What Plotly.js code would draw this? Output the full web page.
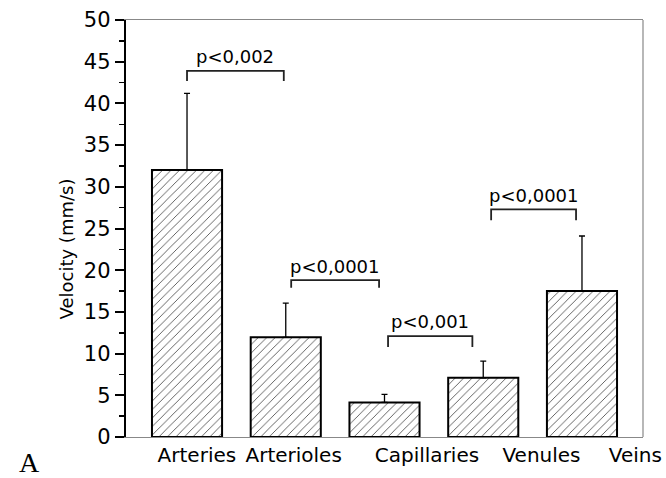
<!DOCTYPE html>
<html>
<head>
<meta charset="utf-8">
<script src="https://cdn.plot.ly/plotly-3.0.1.min.js"></script>
<style>html,body{margin:0;padding:0;background:#fff;}#chart{width:666px;height:478px;}</style>
</head>
<body>
<div id="chart"></div>
<script>
// ---- data ----
const categories = ["Arteries", "Arterioles", "Capillaries", "Venules", "Veins"];
const velocity   = [32.0, 11.95, 4.15, 7.1, 17.5];
const errorPlus  = [9.2, 4.1, 0.95, 2.0, 6.6];
const tickValues = [0, 5, 10, 15, 20, 25, 30, 35, 40, 45, 50];
const tickLabels = ["0", "5", "10", "15", "20", "25", "30", "35", "40", "45", "50"];
const pLabels    = ["p<0,002", "p<0,0001", "p<0,001", "p<0,0001"];
const pFrom      = [0, 1, 2, 3];
const pTo        = [1, 2, 3, 4];
const pLevel     = [43.9, 18.8, 12.1, 27.3];

// ---- layout helpers (positions, not data) ----
const labelPos = [0.10, 1.08, 2.43, 3.59, 4.54];
const bracketInset = [[0, -0.02], [0.055, -0.055], [0.036, -0.11], [0.08, -0.06]];
const legDrop = [1.2, 0.9, 1.3, 1.3];
const textLift = 1.7;

const font = "DejaVu Sans, Arial, sans-serif";
const xs = categories.map((_, i) => i);

const trace = {
  type: "bar",
  x: xs,
  y: velocity,
  width: 0.71,
  marker: {
    color: "#ffffff",
    line: {color: "#000000", width: 2},
    pattern: {shape: "/", fgcolor: "#555555", bgcolor: "#ffffff", size: 6, solidity: 0.15}
  },
  error_y: {
    type: "data", symmetric: false, array: errorPlus,
    arrayminus: errorPlus.map(() => 0),
    color: "#000000", thickness: 1.3, width: 3
  },
  hoverinfo: "skip"
};

const shapes = [];
const annotations = [];
pLabels.forEach((lab, k) => {
  const x1 = pFrom[k] + bracketInset[k][0];
  const x2 = pTo[k] + bracketInset[k][1];
  const y = pLevel[k];
  const yl = y - legDrop[k];
  shapes.push({type: "path", xref: "x", yref: "y",
    path: `M ${x1},${yl} L ${x1},${y} L ${x2},${y} L ${x2},${yl}`,
    line: {color: "#222222", width: 1.8}});
  annotations.push({x: (x1 + x2) / 2, y: y + textLift, xref: "x", yref: "y",
    text: lab, showarrow: false, font: {family: font, size: 18, color: "#000"}});
});
// right frame line
shapes.push({type: "line", xref: "paper", yref: "paper", x0: 1, x1: 1, y0: 0, y1: 1,
  line: {color: "#888888", width: 1.2}});

annotations.push({xref: "paper", yref: "paper", x: -0.14, y: 0.45, textangle: -90,
  text: "Velocity (mm/s)", showarrow: false, font: {family: font, size: 18, color: "#000"}});
annotations.push({xref: "paper", yref: "paper", x: -0.209, y: -0.1, borderpad: 0,
  text: "A", showarrow: false, font: {family: "Liberation Serif, Times New Roman, serif", size: 28, color: "#000"}});

const layout = {
  width: 666, height: 478,
  margin: {l: 126, r: 23, t: 20, b: 41},
  paper_bgcolor: "#ffffff", plot_bgcolor: "#ffffff",
  showlegend: false,
  xaxis: {
    range: [-0.618, 4.618], showgrid: false, zeroline: false,
    showline: true, mirror: true, linecolor: "#888888", linewidth: 1.2,
    tickmode: "array", tickvals: labelPos, ticktext: categories,
    ticks: "", tickfont: {family: font, size: 20, color: "#000"}
  },
  yaxis: {
    range: [0, 50], showgrid: false, zeroline: false,
    showline: true, linecolor: "#000000", linewidth: 2.2,
    tickmode: "array", tickvals: tickValues, ticktext: tickLabels,
    ticks: "outside", ticklen: 9, tickwidth: 2, tickcolor: "#000",
    minor: {dtick: 2.5, ticks: "outside", ticklen: 5, tickwidth: 1.5, tickcolor: "#000"},
    tickfont: {family: font, size: 21, color: "#000"}
  },
  shapes: shapes,
  annotations: annotations
};

Plotly.newPlot("chart", [trace], layout, {displayModeBar: false, staticPlot: true});
</script>
</body>
</html>
